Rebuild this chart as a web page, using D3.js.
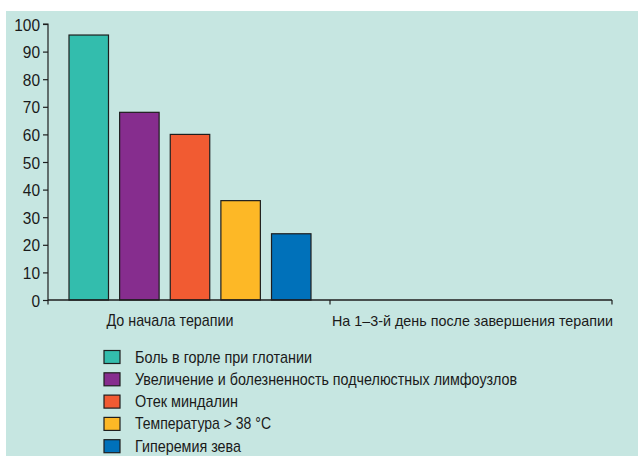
<!DOCTYPE html>
<html>
<head>
<meta charset="utf-8">
<script src="https://cdn.jsdelivr.net/npm/d3@7"></script>
<style>
  html, body { margin: 0; padding: 0; background: #ffffff; }
  svg { display: block; }
  text { font-family: "Liberation Sans Narrow", "Liberation Sans", Arial, sans-serif; fill: #1a1a1a; }
</style>
</head>
<body>
<svg id="chart" width="638" height="456"></svg>
<script>
const categories = ["До начала терапии", "На 1–3-й день после завершения терапии"];
const seriesNames = [
  "Боль в горле при глотании",
  "Увеличение и болезненность подчелюстных лимфоузлов",
  "Отек миндалин",
  "Температура > 38 °С",
  "Гиперемия зева"
];
const seriesColors = ["#33bdad", "#862d8e", "#f15b32", "#fdb826", "#0071ba"];
const seriesValues = [
  [96, 0],
  [68, 0],
  [60, 0],
  [36, 0],
  [24, 0]
];
const yTicks = [0, 10, 20, 30, 40, 50, 60, 70, 80, 90, 100];

const svg = d3.select("#chart");
svg.append("rect").attr("x", 6).attr("y", 11).attr("width", 632).attr("height", 445).attr("fill", "#c6e6e1");

const mLeft = 48, mRight = 612, mTop = 24, mBottom = 300;
const x0 = d3.scaleBand().domain(categories).range([mLeft, mRight]).paddingInner(0).paddingOuter(0);
const x1 = d3.scaleBand().domain(seriesNames).range([21, x0.bandwidth() - 19]).paddingInner(0.22).paddingOuter(0);
const y = d3.scaleLinear().domain([0, 100]).range([mBottom, mTop]);

// bars
const groups = svg.append("g").selectAll("g").data(categories).join("g")
  .attr("transform", d => `translate(${x0(d)},0)`);
groups.selectAll("rect")
  .data((c, ci) => seriesNames.map((s, si) => ({ s, si, v: seriesValues[si][ci] })).filter(d => d.v > 0))
  .join("rect")
  .attr("x", d => x1(d.s))
  .attr("y", d => y(d.v))
  .attr("width", x1.bandwidth())
  .attr("height", d => y(0) - y(d.v))
  .attr("fill", d => seriesColors[d.si])
  .attr("stroke", "#1e1e1e")
  .attr("stroke-width", 1.2);

// y axis
const yAxis = d3.axisLeft(y).tickValues(yTicks).tickSize(5).tickPadding(3);
const yg = svg.append("g").attr("transform", `translate(${mLeft},0)`).call(yAxis);
yg.select(".domain").attr("stroke", "#1e1e1e").attr("stroke-width", 1.2).attr("d", `M-5,${mTop}H0V${mBottom}`);
yg.selectAll(".tick line").attr("stroke", "#1e1e1e").attr("stroke-width", 1.2);
yg.selectAll(".tick text").attr("font-size", 17).attr("fill", "#1a1a1a").attr("dy", "0.36em")
  .attr("textLength", d => String(d).length * 8.6).attr("lengthAdjust", "spacingAndGlyphs")
  .style("font-family", '"Liberation Sans Narrow", "Liberation Sans", Arial, sans-serif');

// x axis
const xTickPos = [mLeft, x0(categories[1]), mRight];
const xg = svg.append("g");
xg.append("line").attr("x1", mLeft).attr("x2", mRight).attr("y1", mBottom).attr("y2", mBottom)
  .attr("stroke", "#1e1e1e").attr("stroke-width", 1.4);
xg.selectAll("line.t").data(xTickPos).join("line").attr("class", "t")
  .attr("x1", d => d).attr("x2", d => d).attr("y1", mBottom).attr("y2", mBottom + 4.5)
  .attr("stroke", "#1e1e1e").attr("stroke-width", 1.2);

const labelInfo = [
  { dx: -19, w: 127, fs: 17 },
  { dx: 1.5, w: 281, fs: 15 }
];
xg.selectAll("text").data(categories).join("text")
  .attr("x", (d, i) => x0(d) + x0.bandwidth() / 2 + labelInfo[i].dx)
  .attr("y", 326)
  .attr("text-anchor", "middle")
  .attr("font-size", (d, i) => labelInfo[i].fs)
  .attr("textLength", (d, i) => labelInfo[i].w)
  .attr("lengthAdjust", "spacingAndGlyphs")
  .text(d => d);

// legend
const legendWidths = [177, 382, 103, 136, 106];
const lg = svg.append("g").selectAll("g").data(seriesNames).join("g")
  .attr("transform", (d, i) => `translate(104,${357 + i * 22.3})`);
lg.append("rect").attr("x", 0).attr("y", -6.5).attr("width", 16).attr("height", 13)
  .attr("fill", (d, i) => seriesColors[i]).attr("stroke", "#1e1e1e").attr("stroke-width", 1.2);
lg.append("text").attr("x", 31).attr("y", 5.5).attr("font-size", 17)
  .attr("textLength", (d, i) => legendWidths[i])
  .attr("lengthAdjust", "spacingAndGlyphs")
  .text(d => d);
</script>
</body>
</html>
